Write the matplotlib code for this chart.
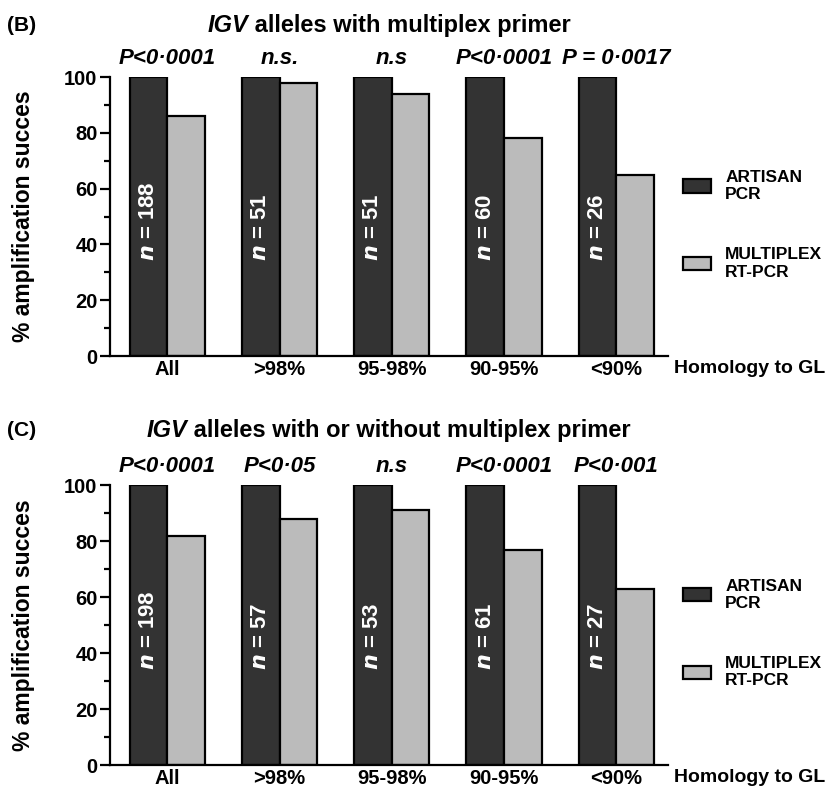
import numpy as np
import matplotlib
matplotlib.use("Agg")
import matplotlib.pyplot as plt
from matplotlib.patches import Patch

plt.rcParams['font.family'] = ['Liberation Sans', 'DejaVu Sans']
plt.rcParams['font.weight'] = 'bold'

# data
groups = ["All", ">98%", "95-98%", "90-95%", "<90%"]
artisan_b = [100, 100, 100, 100, 100]
multiplex_b = [86, 98, 94, 78, 65]
n_b = [188, 51, 51, 60, 26]
p_b = ["P<0·0001", "n.s.", "n.s", "P<0·0001", "P = 0·0017"]

artisan_c = [100, 100, 100, 100, 100]
multiplex_c = [82, 88, 91, 77, 63]
n_c = [198, 57, 53, 61, 27]
p_c = ["P<0·0001", "P<0·05", "n.s", "P<0·0001", "P<0·001"]

dark = "#333333"
light = "#bbbbbb"
w = 0.335

fig = plt.figure(figsize=(8.4, 7.94), dpi=100)
renderer = fig.canvas.get_renderer()


def panel(rect, art, mult, ns, ps, letter, title_rest, title_y):
	ax = fig.add_axes(rect)
	x = np.arange(len(groups))
	ax.bar(x - w/2, art, w, color=dark, edgecolor="black", linewidth=1.6)
	ax.bar(x + w/2, mult, w, color=light, edgecolor="black", linewidth=1.6)
	ax.set_xlim(-0.51, 4.46)
	ax.set_ylim(0, 100)
	ax.spines["top"].set_visible(False)
	ax.spines["right"].set_visible(False)
	ax.spines["left"].set_linewidth(1.6)
	ax.spines["bottom"].set_linewidth(1.6)
	ax.set_yticks([0, 20, 40, 60, 80, 100])
	ax.set_yticks([10, 30, 50, 70, 90], minor=True)
	ax.tick_params(axis="y", which="major", length=7, width=1.6, labelsize=14.5, pad=2)
	ax.tick_params(axis="y", which="minor", length=4, width=1.6)
	ax.set_xticks(x)
	ax.set_xticklabels(groups)
	ax.tick_params(axis="x", length=0, labelsize=14.5, pad=3)
	for t in ax.get_yticklabels() + ax.get_xticklabels():
		t.set_fontweight("bold")
	ax.set_ylabel("% amplification succes", fontsize=16.5, fontweight="bold")
	ax.yaxis.set_label_coords(-0.135, 0.5)
	# n labels inside dark bars
	for i, n in enumerate(ns):
		ax.text(i - w/2, 34, r"$\mathbf{\it{n}}$ = %d" % n, rotation=90, color="white",
			ha="center", va="bottom", fontsize=16, fontweight="bold")
	# p-values
	for i, p in enumerate(ps):
		ax.text(i, 103, p, ha="center", va="bottom", fontsize=16, fontweight="bold",
			style="italic", clip_on=False)
	ax.annotate("Homology to GL", xy=(1.012, 0), xycoords="axes fraction",
		xytext=(0, -3), textcoords="offset points", ha="left", va="top",
		fontsize=14, fontweight="bold", annotation_clip=False)
	# panel letter and title
	fig.text(0.008, title_y, letter, fontsize=15, fontweight="bold", va="center")
	t1 = fig.text(0, title_y, "IGV", fontsize=17, fontweight="bold", style="italic", va="center")
	t2 = fig.text(0, title_y, " " + title_rest, fontsize=17, fontweight="bold", va="center")
	w1 = t1.get_window_extent(renderer).width
	w2 = t2.get_window_extent(renderer).width
	cx = (rect[0] + rect[2]/2) * fig.bbox.width
	start = cx - (w1 + w2)/2
	t1.set_x(start / fig.bbox.width)
	t2.set_x((start + w1) / fig.bbox.width)
	ax.legend(handles=[Patch(facecolor=dark, edgecolor="black", linewidth=1.6, label="ARTISAN\nPCR"),
		Patch(facecolor=light, edgecolor="black", linewidth=1.6, label="MULTIPLEX\nRT-PCR")],
		loc="center left", bbox_to_anchor=(1.0, 0.47), frameon=False,
		prop={"size": 12.5, "weight": "bold"}, handlelength=1.6, handleheight=0.8,
		labelspacing=2.6, handletextpad=0.8)
	return ax


panel([0.131, 0.5516, 0.664, 0.3514], artisan_b, multiplex_b, n_b, p_b,
	"(B)", "alleles with multiplex primer", 0.968)
panel([0.131, 0.0365, 0.664, 0.3525], artisan_c, multiplex_c, n_c, p_c,
	"(C)", "alleles with or without multiplex primer", 0.458)

fig.savefig("out.png", dpi=100)
